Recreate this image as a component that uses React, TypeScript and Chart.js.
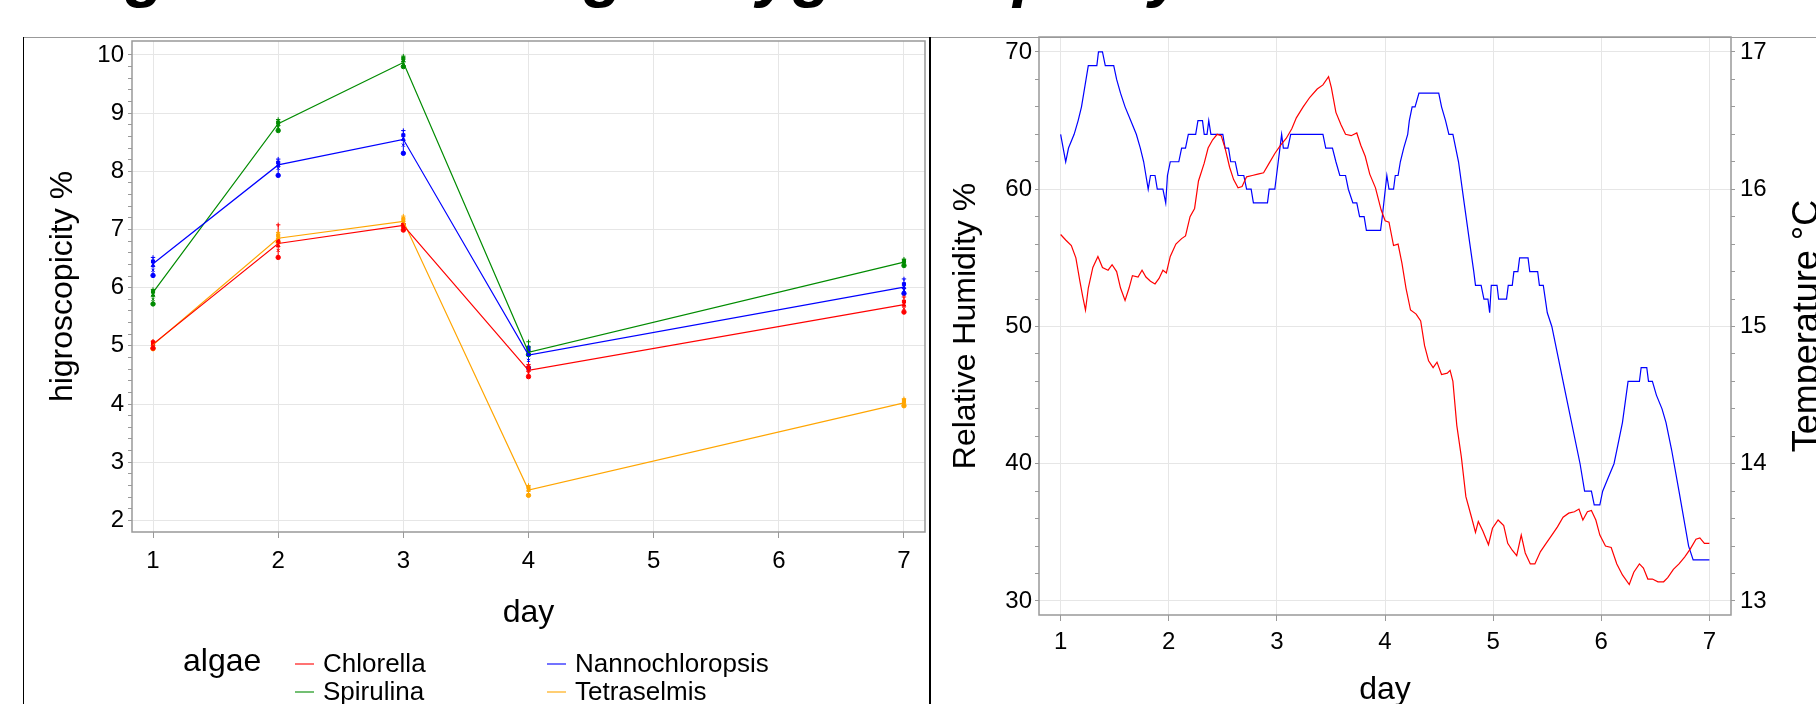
import React, { useEffect, useRef } from "react";
import { Chart, registerables } from "chart.js";

Chart.register(...registerables);

const FONT = "'Liberation Sans', Arial, Helvetica, sans-serif";
const GRID = "#e6e6e6";
const AXIS = "#999999";

// ---------- Left panel: hygroscopicity ----------
const days = [1, 2, 3, 4, 7];
const dayTicks = [1, 2, 3, 4, 5, 6, 7];
const hygroTicks = [2, 3, 4, 5, 6, 7, 8, 9, 10];
const algaeNames = ["Chlorella", "Nannochloropsis", "Spirulina", "Tetraselmis"];
const algaeColors = ["#FF0000", "#0000FF", "#008B00", "#FFA500"];
const algaeLegendColors = ["rgba(255,0,0,0.55)", "rgba(0,0,255,0.55)", "rgba(0,139,0,0.55)", "rgba(255,165,0,0.55)"];

const chlorellaMean = [5.03, 6.76, 7.07, 4.58, 5.71];
const nannoMean = [6.41, 8.11, 8.55, 4.84, 6.01];
const spirulinaMean = [5.92, 8.82, 9.87, 4.89, 6.44];
const tetraMean = [5.02, 6.85, 7.14, 2.52, 4.02];

const chlorellaReps = [
  [4.96, 5.0, 5.03, 5.06, 5.08],
  [6.52, 6.64, 6.72, 6.8, 7.08],
  [6.99, 7.02, 7.05, 7.08, 7.1],
  [4.47, 4.53, 4.58, 4.63, 4.68],
  [5.58, 5.64, 5.7, 5.76, 5.84],
];
const nannoReps = [
  [6.21, 6.3, 6.38, 6.45, 6.52],
  [7.93, 8.05, 8.1, 8.15, 8.21],
  [8.31, 8.45, 8.55, 8.62, 8.7],
  [4.62, 4.75, 4.85, 4.92, 4.98],
  [5.9, 5.96, 6.0, 6.06, 6.15],
];
const spirulinaReps = [
  [5.72, 5.8, 5.87, 5.93, 5.97],
  [8.7, 8.76, 8.8, 8.84, 8.89],
  [9.8, 9.84, 9.9, 9.94, 9.98],
  [4.85, 4.88, 4.92, 4.97, 5.07],
  [6.38, 6.42, 6.44, 6.46, 6.49],
];
const tetraReps = [
  [4.95, 4.99, 5.02, 5.05, 5.07],
  [6.78, 6.82, 6.86, 6.9, 6.95],
  [7.08, 7.12, 7.15, 7.18, 7.23],
  [2.43, 2.48, 2.52, 2.56, 2.6],
  [3.97, 4.0, 4.03, 4.06, 4.09],
];
const repShapes = ["circle", "crossRot", "triangle", "rect", "cross"];

// ---------- Right panel: climate ----------
const rhTicks = [30, 40, 50, 60, 70];
const tempTicks = [13, 14, 15, 16, 17];

const rhDays = [
  1.0, 1.047, 1.099, 1.141, 1.178, 1.204, 1.23, 1.256, 1.298, 1.345, 1.387, 1.439, 1.476, 1.518, 1.554, 1.596,
  1.633, 1.664, 1.716, 1.753, 1.789, 1.831, 1.873, 1.91, 1.946, 1.978, 2.014, 2.066, 2.119, 2.155, 2.197, 2.239,
  2.275, 2.328, 2.364, 2.406, 2.448, 2.485, 2.521, 2.563, 2.6, 2.641, 2.678, 2.72, 2.772, 2.824, 2.877, 2.929,
  2.981, 3.033, 3.086, 3.138, 3.18, 3.243, 3.305, 3.373, 3.426, 3.478, 3.504, 3.546, 3.593, 3.635, 3.687, 3.739,
  3.776, 3.817, 3.859, 3.912, 3.964, 4.001, 4.037, 4.079, 4.121, 4.157, 4.194, 4.236, 4.288, 4.33, 4.366, 4.403,
  4.445, 4.481, 4.523, 4.576, 4.602, 4.628, 4.664, 4.706, 4.748, 4.8, 4.837, 4.863, 4.905, 4.957, 4.994, 5.046,
  5.098, 5.135, 5.177, 5.218, 5.26, 5.297, 5.344, 5.386, 5.438, 5.49, 5.543, 5.595, 5.647, 5.699, 5.752, 5.794,
  5.83, 5.872, 5.909, 5.95, 5.987, 6.039, 6.092, 6.144, 6.196, 6.259, 6.301, 6.353, 6.39, 6.431, 6.473, 6.525,
  6.577, 6.615, 6.667, 6.719, 6.771, 6.824, 6.876, 6.912, 6.954, 7.0,
];
const rhValues = [
  56.7, 56.3, 55.9, 55.0, 53.3, 52.2, 51.2, 52.8, 54.3, 55.1, 54.3, 54.1, 54.5, 54.0, 52.8, 51.9,
  52.8, 53.7, 53.6, 54.1, 53.6, 53.3, 53.1, 53.5, 54.1, 53.9, 55.1, 56.0, 56.4, 56.6, 58.0, 58.6,
  60.6, 61.9, 63.0, 63.6, 64.0, 63.9, 63.0, 61.6, 60.7, 60.1, 60.2, 60.9, 61.0, 61.1, 61.2, 61.9,
  62.6, 63.2, 63.7, 64.4, 65.2, 66.0, 66.7, 67.3, 67.6, 68.2, 67.4, 65.6, 64.7, 64.0, 63.9, 64.1,
  63.2, 62.4, 61.1, 60.1, 58.5, 57.7, 57.6, 55.9, 56.0, 54.6, 52.8, 51.2, 50.9, 50.4, 48.6, 47.5,
  47.0, 47.4, 46.5, 46.6, 46.8, 46.0, 42.8, 40.5, 37.6, 36.1, 35.0, 35.8, 35.1, 34.1, 35.3, 35.9,
  35.5, 34.2, 33.7, 33.3, 34.8, 33.5, 32.7, 32.7, 33.6, 34.2, 34.8, 35.4, 36.1, 36.4, 36.5, 36.7,
  35.9, 36.5, 36.6, 35.9, 34.8, 34.0, 33.9, 32.7, 31.9, 31.2, 32.1, 32.7, 32.4, 31.6, 31.6, 31.4,
  31.4, 31.7, 32.3, 32.7, 33.2, 33.8, 34.5, 34.6, 34.2, 34.2,
];

const tempDays = [
  1.0, 1.047, 1.073, 1.125, 1.162, 1.193, 1.214, 1.235, 1.256, 1.335, 1.35, 1.387, 1.413, 1.491, 1.518, 1.554,
  1.596, 1.648, 1.7, 1.737, 1.768, 1.789, 1.81, 1.831, 1.873, 1.894, 1.946, 1.972, 1.988, 2.014, 2.093, 2.119,
  2.155, 2.181, 2.249, 2.27, 2.312, 2.328, 2.354, 2.37, 2.39, 2.5, 2.521, 2.553, 2.573, 2.615, 2.641, 2.694,
  2.72, 2.762, 2.783, 2.913, 2.929, 2.981, 3.044, 3.06, 3.101, 3.128, 3.426, 3.452, 3.514, 3.546, 3.582, 3.635,
  3.661, 3.703, 3.739, 3.765, 3.807, 3.828, 3.959, 3.975, 4.017, 4.037, 4.079, 4.095, 4.121, 4.142, 4.173, 4.21,
  4.225, 4.251, 4.278, 4.314, 4.497, 4.523, 4.56, 4.591, 4.628, 4.68, 4.732, 4.785, 4.821, 4.837, 4.889, 4.915,
  4.952, 4.968, 4.983, 5.036, 5.051, 5.124, 5.14, 5.177, 5.192, 5.229, 5.245, 5.323, 5.339, 5.412, 5.428, 5.464,
  5.501, 5.543, 5.673, 5.804, 5.846, 5.909, 5.935, 5.987, 6.013, 6.065, 6.118, 6.144, 6.196, 6.248, 6.353, 6.369,
  6.421, 6.437, 6.473, 6.51, 6.562, 6.599, 6.651, 6.719, 6.808, 6.85, 7.0,
];
const tempValues = [
  16.4, 16.2, 16.3, 16.4, 16.5, 16.6, 16.7, 16.8, 16.9, 16.9, 17.0, 17.0, 16.9, 16.9, 16.8, 16.7,
  16.6, 16.5, 16.4, 16.3, 16.2, 16.1, 16.0, 16.1, 16.1, 16.0, 16.0, 15.9, 16.1, 16.2, 16.2, 16.3,
  16.3, 16.4, 16.4, 16.5, 16.5, 16.4, 16.4, 16.5, 16.4, 16.4, 16.3, 16.3, 16.2, 16.2, 16.1, 16.1,
  16.0, 16.0, 15.9, 15.9, 16.0, 16.0, 16.4, 16.3, 16.3, 16.4, 16.4, 16.3, 16.3, 16.2, 16.1, 16.1,
  16.0, 15.9, 15.9, 15.8, 15.8, 15.7, 15.7, 15.8, 16.1, 16.0, 16.0, 16.1, 16.1, 16.2, 16.3, 16.4,
  16.5, 16.6, 16.6, 16.7, 16.7, 16.6, 16.5, 16.4, 16.4, 16.2, 15.9, 15.6, 15.4, 15.3, 15.3, 15.2,
  15.2, 15.1, 15.3, 15.3, 15.2, 15.2, 15.3, 15.3, 15.4, 15.4, 15.5, 15.5, 15.4, 15.4, 15.3, 15.3,
  15.1, 15.0, 14.5, 14.0, 13.8, 13.8, 13.7, 13.7, 13.8, 13.9, 14.0, 14.1, 14.3, 14.6, 14.6, 14.7,
  14.7, 14.6, 14.6, 14.5, 14.4, 14.3, 14.1, 13.8, 13.4, 13.3, 13.3,
];

const titleText = "Diagram for the algae hygroscopicity and climate";

// ---------- helpers ----------
function withMinor(majors: number[], parts: number): number[] {
  const out: number[] = [];
  for (let i = 0; i < majors.length; i++) {
    out.push(majors[i]);
    if (i < majors.length - 1) {
      const step = (majors[i + 1] - majors[i]) / parts;
      for (let k = 1; k < parts; k++) out.push(majors[i] + step * k);
    }
  }
  return out;
}
function isMajor(v: number | undefined, majors: number[]): boolean {
  if (v === undefined || v === null) return false;
  return majors.some((m) => Math.abs(m - v) < 1e-6);
}

const framePlugin = {
  id: "frame",
  beforeDatasetsDraw(chart: any) {
    const { ctx, chartArea } = chart;
    ctx.save();
    ctx.strokeStyle = AXIS;
    ctx.lineWidth = 1.5;
    ctx.strokeRect(chartArea.left, chartArea.top, chartArea.right - chartArea.left, chartArea.bottom - chartArea.top);
    ctx.restore();
  },
};

const TICK_SIZE = 24;
function tickFont() {
  return { family: FONT, size: TICK_SIZE };
}
function fixY(width: number) {
  return (s: any) => {
    s.width = width;
    s.paddingTop = 0;
    s.paddingBottom = 0;
  };
}
function fixX(height: number) {
  return (s: any) => {
    s.height = height;
    s.paddingLeft = 0;
    s.paddingRight = 0;
  };
}

function HygroChart() {
  const ref = useRef<HTMLCanvasElement>(null);
  useEffect(() => {
    const means = [chlorellaMean, nannoMean, spirulinaMean, tetraMean];
    const reps = [chlorellaReps, nannoReps, spirulinaReps, tetraReps];
    const datasets: any[] = [];
    algaeNames.forEach((name, i) => {
      datasets.push({
        type: "line",
        label: name,
        data: days.map((d, j) => ({ x: d, y: means[i][j] })),
        borderColor: algaeColors[i],
        backgroundColor: algaeColors[i],
        borderWidth: 1.2,
        pointRadius: 0,
        tension: 0,
        order: 1,
      });
    });
    algaeNames.forEach((name, i) => {
      datasets.push({
        type: "scatter",
        label: name + " replicates",
        data: days.flatMap((d, j) => reps[i][j].map((v) => ({ x: d, y: v }))),
        borderColor: algaeColors[i],
        backgroundColor: algaeColors[i],
        pointStyle: (c: any) => repShapes[c.dataIndex % repShapes.length],
        pointRadius: 2.2,
        borderWidth: 1,
        order: 2,
      });
    });
    const errorBars = {
      id: "errorBars",
      beforeDatasetsDraw(chart: any) {
        const { ctx, scales } = chart;
        reps.forEach((r, i) => {
          ctx.save();
          ctx.strokeStyle = algaeColors[i];
          ctx.lineWidth = 1;
          days.forEach((d, j) => {
            const px = scales.x.getPixelForValue(d);
            ctx.beginPath();
            ctx.moveTo(px, scales.y.getPixelForValue(Math.min(...r[j])));
            ctx.lineTo(px, scales.y.getPixelForValue(Math.max(...r[j])));
            ctx.stroke();
          });
          ctx.restore();
        });
      },
    };
    const chart = new Chart(ref.current as HTMLCanvasElement, {
      type: "line",
      data: { datasets },
      plugins: [framePlugin, errorBars],
      options: {
        animation: false,
        responsive: false,
        events: [],
        layout: { padding: { top: 1, left: 0, right: 5, bottom: 72 } },
        plugins: { legend: { display: false }, tooltip: { enabled: false } },
        scales: {
          x: {
            type: "linear",
            min: 0.832,
            max: 7.168,
            bounds: "data",
            afterBuildTicks: (s: any) => {
              s.ticks = dayTicks.map((v) => ({ value: v }));
            },
            afterFit: fixX(100),
            grid: { color: GRID, tickColor: AXIS, tickLength: 6, lineWidth: 1 },
            border: { display: false },
            ticks: { color: "#000", font: tickFont(), padding: 9, autoSkip: false, maxRotation: 0, callback: (v: any) => String(v) },
            title: { display: true, text: "day", color: "#000", font: { family: FONT, size: 32 }, padding: 0 },
          },
          y: {
            type: "linear",
            min: 1.8,
            max: 10.24,
            bounds: "data",
            afterBuildTicks: (s: any) => {
              s.ticks = withMinor(hygroTicks, 5).map((v) => ({ value: v }));
            },
            afterFit: fixY(109),
            grid: {
              color: (c: any) => (isMajor(c.tick && c.tick.value, hygroTicks) ? GRID : "rgba(0,0,0,0)"),
              tickColor: AXIS,
              tickLength: 4,
            },
            border: { display: false },
            ticks: {
              color: "#000",
              font: tickFont(),
              padding: 4,
              autoSkip: false,
              callback: (v: any) => (isMajor(v, hygroTicks) ? String(Math.round(v)) : ""),
            },
            title: { display: true, text: "higroscopicity %", color: "#000", font: { family: FONT, size: 32 }, padding: { top: 21, bottom: 0 } },
          },
        },
      } as any,
    });
    return () => chart.destroy();
  }, []);
  return <canvas ref={ref} width={907} height={668} style={{ position: "absolute", left: 23, top: 36, width: 907, height: 668 }} />;
}

function ClimateChart() {
  const ref = useRef<HTMLCanvasElement>(null);
  useEffect(() => {
    const tempTitle = {
      id: "tempTitle",
      afterDraw(chart: any) {
        const { ctx, chartArea } = chart;
        ctx.save();
        ctx.translate(887, (chartArea.top + chartArea.bottom) / 2);
        ctx.rotate(-Math.PI / 2);
        ctx.fillStyle = "#000";
        ctx.font = `36px ${FONT}`;
        ctx.textAlign = "center";
        ctx.textBaseline = "alphabetic";
        ctx.fillText("Temperature °C", 0, 0);
        ctx.restore();
      },
    };
    const chart = new Chart(ref.current as HTMLCanvasElement, {
      type: "line",
      data: {
        datasets: [
          {
            label: "Relative Humidity",
            data: rhDays.map((d, i) => ({ x: d, y: rhValues[i] })),
            borderColor: "#FF0000",
            borderWidth: 1.2,
            pointRadius: 0,
            tension: 0,
            yAxisID: "y",
          },
          {
            label: "Temperature",
            data: tempDays.map((d, i) => ({ x: d, y: tempValues[i] })),
            borderColor: "#0000FF",
            borderWidth: 1.2,
            pointRadius: 0,
            tension: 0,
            yAxisID: "y2",
          },
        ],
      },
      plugins: [framePlugin, tempTitle],
      options: {
        animation: false,
        responsive: false,
        events: [],
        layout: { padding: { top: 1, left: 0, right: 0, bottom: 0 } },
        plugins: { legend: { display: false }, tooltip: { enabled: false } },
        scales: {
          x: {
            type: "linear",
            min: 0.8,
            max: 7.2,
            bounds: "data",
            afterBuildTicks: (s: any) => {
              s.ticks = dayTicks.map((v) => ({ value: v }));
            },
            afterFit: fixX(94),
            grid: { color: GRID, tickColor: AXIS, tickLength: 6 },
            border: { display: false },
            ticks: { color: "#000", font: tickFont(), padding: 7, autoSkip: false, maxRotation: 0, callback: (v: any) => String(v) },
            title: { display: true, text: "day", color: "#000", font: { family: FONT, size: 32 }, padding: 0 },
          },
          y: {
            type: "linear",
            position: "left",
            min: 28.98,
            max: 71.09,
            bounds: "data",
            afterBuildTicks: (s: any) => {
              s.ticks = withMinor(rhTicks, 5).map((v) => ({ value: v }));
            },
            afterFit: fixY(108),
            grid: {
              color: (c: any) => (isMajor(c.tick && c.tick.value, rhTicks) ? GRID : "rgba(0,0,0,0)"),
              tickColor: AXIS,
              tickLength: 4,
            },
            border: { display: false },
            ticks: {
              color: "#000",
              font: tickFont(),
              padding: 3,
              autoSkip: false,
              callback: (v: any) => (isMajor(v, rhTicks) ? String(Math.round(v)) : ""),
            },
            title: { display: true, text: "Relative Humidity %", color: "#000", font: { family: FONT, size: 32 }, padding: { top: 16, bottom: 0 } },
          },
          y2: {
            type: "linear",
            position: "right",
            min: 12.898,
            max: 17.109,
            bounds: "data",
            afterBuildTicks: (s: any) => {
              s.ticks = withMinor(tempTicks, 5).map((v) => ({ value: v }));
            },
            afterFit: fixY(90),
            grid: { drawOnChartArea: false, color: AXIS, tickColor: AXIS, tickLength: 4 },
            border: { display: false },
            ticks: {
              color: "#000",
              font: tickFont(),
              padding: 5,
              autoSkip: false,
              callback: (v: any) => (isMajor(v, tempTicks) ? String(Math.round(v)) : ""),
            },
            title: { display: false },
          },
        },
      } as any,
    });
    return () => chart.destroy();
  }, []);
  return <canvas ref={ref} width={890} height={673} style={{ position: "absolute", left: 931, top: 36, width: 890, height: 673 }} />;
}

function TitleCanvas() {
  const ref = useRef<HTMLCanvasElement>(null);
  useEffect(() => {
    const c = ref.current as HTMLCanvasElement;
    const ctx = c.getContext("2d") as CanvasRenderingContext2D;
    ctx.clearRect(0, 0, c.width, c.height);
    ctx.fillStyle = "#000";
    ctx.font = `italic bold 66px ${FONT}`;
    ctx.textBaseline = "alphabetic";
    ctx.textAlign = "left";
    ctx.fillText(titleText, 23, -6);
  }, []);
  return <canvas ref={ref} width={1816} height={30} style={{ position: "absolute", left: 0, top: 0, width: 1816, height: 30 }} />;
}

function textAt(text: string, left: number, baseline: number, size: number, extra: any = {}) {
  return (
    <div
      style={{
        position: "absolute",
        left,
        top: baseline - 0.3465 * size,
        fontSize: size,
        lineHeight: "0px",
        whiteSpace: "nowrap",
        fontFamily: FONT,
        color: "#000",
        ...extra,
      }}
    >
      {text}
    </div>
  );
}

export default function App() {
  const legendRows = [
    { idx: 0, x: 295, tx: 323, base: 672 },
    { idx: 1, x: 547, tx: 575, base: 672 },
    { idx: 2, x: 295, tx: 323, base: 700 },
    { idx: 3, x: 547, tx: 575, base: 700 },
  ];
  return (
    <div style={{ position: "absolute", left: 0, top: 0, width: 1816, height: 704, overflow: "hidden", background: "#fff" }}>
      <TitleCanvas />
      <HygroChart />
      <ClimateChart />
      {/* panel borders */}
      <div style={{ position: "absolute", left: 23, top: 37, width: 1793, height: 1, background: AXIS }} />
      <div style={{ position: "absolute", left: 23, top: 37, width: 1, height: 667, background: "#000" }} />
      <div style={{ position: "absolute", left: 929, top: 37, width: 2, height: 667, background: "#000" }} />
      {/* legend */}
      {textAt("algae", 183, 671, 32)}
      {legendRows.map((r) => (
        <React.Fragment key={r.idx}>
          <div style={{ position: "absolute", left: r.x, top: r.base - 9, width: 19, height: 2, background: algaeLegendColors[r.idx] }} />
          {textAt(algaeNames[r.idx], r.tx, r.base, 26)}
        </React.Fragment>
      ))}
    </div>
  );
}
